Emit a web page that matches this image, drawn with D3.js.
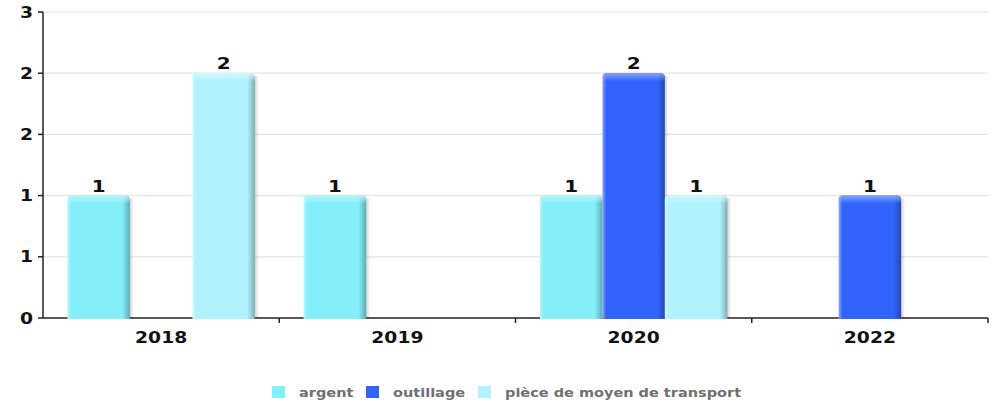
<!DOCTYPE html>
<html>
<head>
<meta charset="utf-8">
<script src="https://cdn.jsdelivr.net/npm/d3@7/dist/d3.min.js"></script>
<style>
  html, body { margin: 0; padding: 0; background: #fff; }
  svg { display: block; }
  text { font-family: "DejaVu Sans", sans-serif; font-weight: bold; }
</style>
</head>
<body>
<svg id="chart" width="998" height="406"></svg>
<script>
// Chart data
const categories = ["2018", "2019", "2020", "2022"];
const seriesNames = ["argent", "outillage", "pièce de moyen de transport"];
const argent = [1, 1, 1, null];
const outillage = [null, null, 2, 1];
const pieceTransport = [2, null, 1, null];
const seriesColors = ["#84eefb", "#3164fb", "#b0f2fd"];
const yTickValues = [0, 0.5, 1, 1.5, 2, 2.5];
const yTickLabels = ["0", "1", "1", "2", "2", "3"];

const seriesValues = [argent, outillage, pieceTransport];

const svg = d3.select("#chart");
const plot = { left: 43, right: 988, top: 12, bottom: 318 };
const SX = 1.25; // horizontal text stretch

const x = d3.scaleBand().domain(categories).range([plot.left, plot.right]).paddingInner(0).paddingOuter(0);
const xs = d3.scaleBand().domain(seriesNames).range([0, x.bandwidth()]).paddingInner(0).paddingOuter(0.39);
const y = d3.scaleLinear().domain([0, 2.5]).range([plot.bottom, plot.top]);

// stretched text helper
function label(g, tx, ty, str, opts) {
  return g.append("text")
    .attr("transform", `translate(${tx},${ty}) scale(${SX},1)`)
    .attr("text-anchor", opts.anchor || "middle")
    .attr("font-size", opts.size || 15)
    .attr("fill", opts.fill || "#111")
    .text(str);
}

const defs = svg.append("defs");
seriesColors.forEach((c, i) => {
  const base = d3.color(c);
  const light = d3.interpolateRgb(c, "#ffffff")(0.45);
  const dark = d3.interpolateRgb(c, "#000000")(0.28);
  const gr = defs.append("linearGradient").attr("id", "barGrad" + i)
    .attr("x1", "0").attr("x2", "1").attr("y1", "0").attr("y2", "0");
  gr.append("stop").attr("offset", "0%").attr("stop-color", light);
  gr.append("stop").attr("offset", "6%").attr("stop-color", base.formatHex());
  gr.append("stop").attr("offset", "88%").attr("stop-color", base.formatHex());
  gr.append("stop").attr("offset", "100%").attr("stop-color", dark);
  const tg = defs.append("linearGradient").attr("id", "topGrad" + i)
    .attr("x1", "0").attr("x2", "0").attr("y1", "0").attr("y2", "1");
  tg.append("stop").attr("offset", "0%").attr("stop-color", light).attr("stop-opacity", 0.9);
  tg.append("stop").attr("offset", "100%").attr("stop-color", light).attr("stop-opacity", 0);
});
const sg = defs.append("linearGradient").attr("id", "shadowGrad")
  .attr("x1", "0").attr("x2", "1").attr("y1", "0").attr("y2", "0");
sg.append("stop").attr("offset", "0%").attr("stop-color", "#000").attr("stop-opacity", 0.22);
sg.append("stop").attr("offset", "100%").attr("stop-color", "#000").attr("stop-opacity", 0.0);

// gridlines
svg.append("g").selectAll("line").data(yTickValues.filter(v => v > 0)).join("line")
  .attr("x1", plot.left).attr("x2", plot.right)
  .attr("y1", d => y(d)).attr("y2", d => y(d))
  .attr("stroke", "#e4e4e4").attr("stroke-width", 1.2);

// axes
const axisG = svg.append("g");
axisG.append("line").attr("x1", plot.left).attr("x2", plot.left)
  .attr("y1", plot.top).attr("y2", plot.bottom).attr("stroke", "#222").attr("stroke-width", 1.5);
axisG.append("line").attr("x1", plot.left).attr("x2", plot.right)
  .attr("y1", plot.bottom).attr("y2", plot.bottom).attr("stroke", "#222").attr("stroke-width", 1.5);
yTickValues.forEach((v, i) => {
  axisG.append("line").attr("x1", plot.left - 5).attr("x2", plot.left)
    .attr("y1", y(v)).attr("y2", y(v)).attr("stroke", "#222").attr("stroke-width", 1.5);
  label(axisG, plot.left - 10, y(v) + 5.5, yTickLabels[i], { anchor: "end", size: 15 });
});
const bounds = categories.map(c => x(c)).concat([plot.right]);
bounds.slice(1).forEach(b => {
  axisG.append("line").attr("x1", b).attr("x2", b)
    .attr("y1", plot.bottom).attr("y2", plot.bottom + 5).attr("stroke", "#222").attr("stroke-width", 1.5);
});
categories.forEach(c => {
  label(axisG, x(c) + x.bandwidth() / 2, 343, c, { size: 15 });
});

// bars
const fmt = d3.format(".0f");
const r = 4;
function barPath(x0, y0, w, h) {
  return `M${x0},${y0 + h} V${y0 + r} Q${x0},${y0} ${x0 + r},${y0} H${x0 + w - r} Q${x0 + w},${y0} ${x0 + w},${y0 + r} V${y0 + h} Z`;
}
const barsG = svg.append("g");
seriesNames.forEach((s, si) => {
  seriesValues[si].forEach((v, ci) => {
    if (v == null) return;
    const bx = x(categories[ci]) + xs(s);
    const bw = xs.bandwidth();
    const by = y(v);
    const bh = y(0) - by;
    barsG.append("rect").attr("x", bx + bw - 1).attr("y", by + 3).attr("width", 5).attr("height", bh - 3)
      .attr("fill", "url(#shadowGrad)");
    barsG.append("path").attr("d", barPath(bx, by, bw, bh + 1)).attr("fill", `url(#barGrad${si})`);
    barsG.append("path").attr("d", barPath(bx, by, bw, 8)).attr("fill", `url(#topGrad${si})`);
    label(barsG, bx + bw / 2, by - 4, fmt(v), { size: 16 });
  });
});

// legend
const legendG = svg.append("g");
const legendPos = [{ sq: 272, tx: 299 }, { sq: 366, tx: 393 }, { sq: 478, tx: 505 }];
seriesNames.forEach((s, i) => {
  legendG.append("rect").attr("x", legendPos[i].sq).attr("y", 386).attr("width", 13).attr("height", 12)
    .attr("fill", seriesColors[i]);
  label(legendG, legendPos[i].tx, 397, s, { anchor: "start", size: 11.6, fill: "#707070" });
});
</script>
</body>
</html>
